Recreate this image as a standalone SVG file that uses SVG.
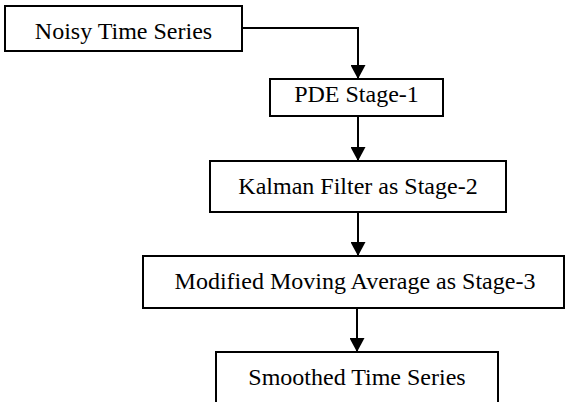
<svg xmlns="http://www.w3.org/2000/svg" width="566" height="402" viewBox="0 0 566 402">
<style>
.box{fill:#fff;stroke:#000;stroke-width:2}
.lbl{font-size:24px;fill:#000;text-anchor:middle}
.con{fill:none;stroke:#000;stroke-width:2}
</style>
<defs>
<marker id="ah" viewBox="0 0 14 15" refX="14" refY="7.5" markerWidth="14" markerHeight="15" markerUnits="userSpaceOnUse" orient="auto">
<path d="M0,0 L14,7.5 L0,15 Z" fill="#000"/>
</marker>
</defs>
<rect width="566" height="402" fill="#fff"/>
<g id="connectors">
<path class="con" d="M242,28 H358 V79" marker-end="url(#ah)"/>
<path class="con" d="M358,116 V161" marker-end="url(#ah)"/>
<path class="con" d="M358,212 V256" marker-end="url(#ah)"/>
<path class="con" d="M357,308 V352" marker-end="url(#ah)"/>
</g>
<g font-family="'Liberation Serif', 'Times New Roman', 'DejaVu Serif', serif">
<g id="n1"><rect class="box" x="5" y="6" width="237" height="45"/><text class="lbl" x="123.5" y="39">Noisy Time Series</text></g>
<g id="n2"><rect class="box" x="270" y="79" width="173" height="37"/><text class="lbl" x="356.5" y="102">PDE Stage-1</text></g>
<g id="n3"><rect class="box" x="210" y="161" width="296" height="51"/><text class="lbl" x="358" y="194">Kalman Filter as Stage-2</text></g>
<g id="n4"><rect class="box" x="143" y="256" width="421" height="52"/><text class="lbl" x="355" y="289">Modified Moving Average as Stage-3</text></g>
<g id="n5"><rect class="box" x="216" y="352" width="282" height="70"/><text class="lbl" x="357" y="385">Smoothed Time Series</text></g>
</g>
</svg>
